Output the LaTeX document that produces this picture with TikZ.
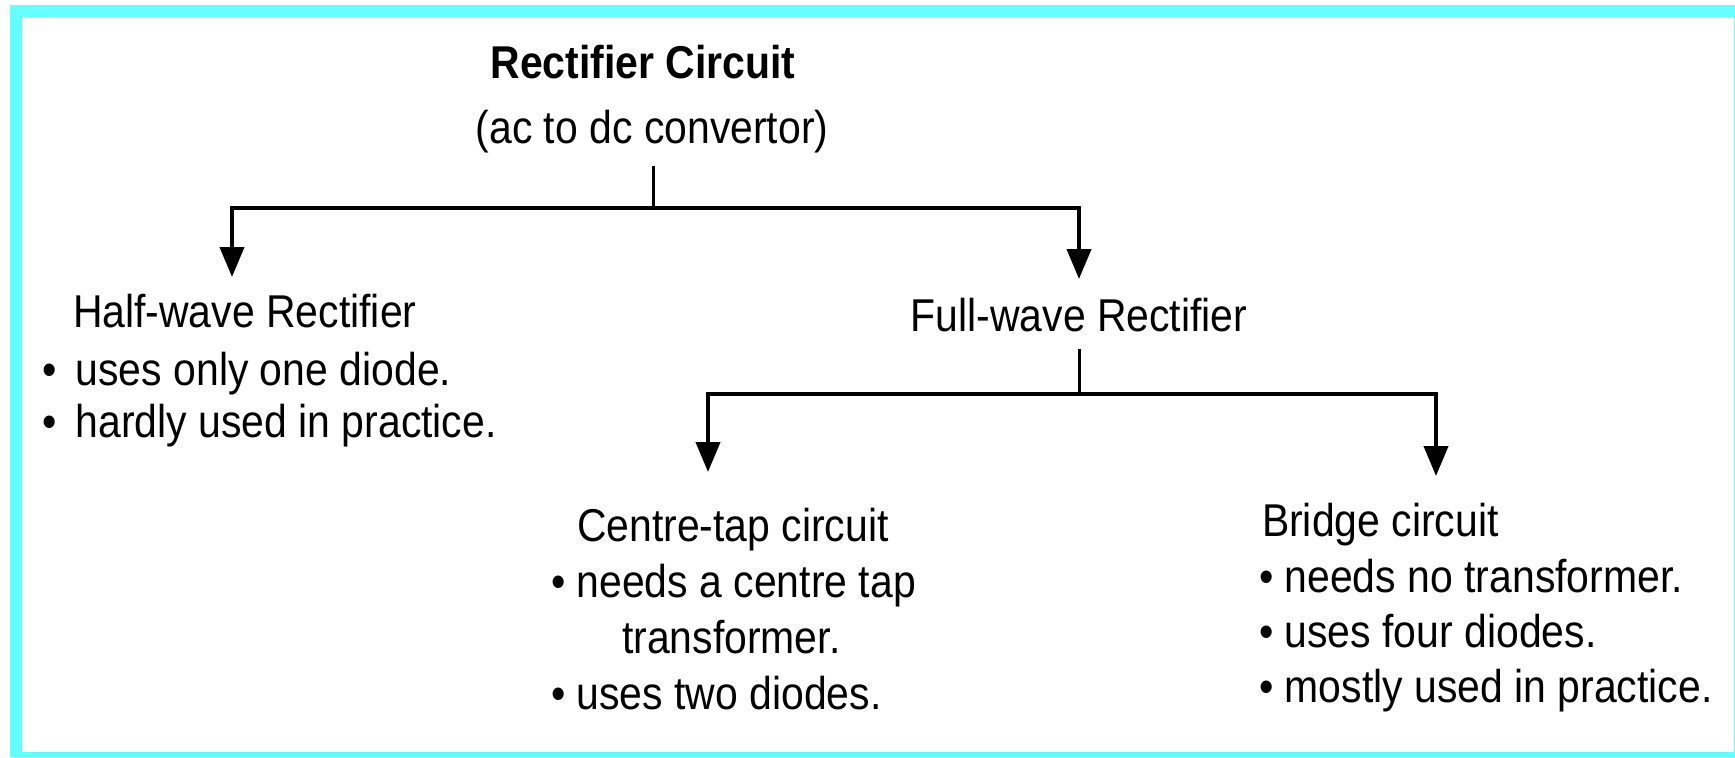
\documentclass[tikz,border=0pt]{standalone}
\usepackage{fontspec}
\setmainfont{Liberation Sans}[FakeStretch=0.89]
\usetikzlibrary{arrows.meta}
\definecolor{framecyan}{HTML}{66FFFF}
\tikzset{
  lbl/.style={inner sep=0pt, outer sep=0pt, font=\fontsize{23}{27.5}\selectfont},
  ttl/.style={lbl, font=\fontsize{23}{27.5}\selectfont\bfseries},
  conn/.style={line width=2pt, line join=miter, draw=black},
  stem/.style={line width=1.5pt, draw=black},
  arr/.style={conn, -{Triangle[width=12pt, length=15pt]}}
}
\begin{document}
\begin{tikzpicture}[x=0.5pt, y=-0.5pt]
\useasboundingbox (0,0) rectangle (1735,757);
% frame
\fill[framecyan, even odd rule] (10,5) rectangle (1735,757) (22,17) rectangle (1734,752);

% root
\node[ttl, anchor=base] (root) at (643,78) {Rectifier Circuit};
\node[lbl, anchor=base] (rootsub) at (652,143) {(ac to dc convertor)};

% half-wave
\node[lbl, anchor=base west] (half) at (73,327) {Half-wave Rectifier};
\node[lbl, anchor=base west] (half1) at (42,385) {\textbullet\hspace{4pt} uses only one diode.};
\node[lbl, anchor=base west] (half2) at (42,437) {\textbullet\hspace{4pt} hardly used in practice.};

% full-wave
\node[lbl, anchor=base] (full) at (1079,331) {Full-wave Rectifier};

% centre-tap
\node[lbl, anchor=base west] (ct) at (577,541) {Centre-tap circuit};
\node[lbl, anchor=base west] (ct1) at (551,597) {\textbullet\ needs a centre tap};
\node[lbl, anchor=base west] (ct2) at (622,653) {transformer.};
\node[lbl, anchor=base west] (ct3) at (551,709) {\textbullet\ uses two diodes.};

% bridge
\node[lbl, anchor=base west] (br) at (1262,536) {Bridge circuit};
\node[lbl, anchor=base west] (br1) at (1259,592) {\textbullet\ needs no transformer.};
\node[lbl, anchor=base west] (br2) at (1259,647) {\textbullet\ uses four diodes.};
\node[lbl, anchor=base west] (br3) at (1259,702) {\textbullet\ mostly used in practice.};

% junctions and arrow tips
\coordinate (rj) at (653,208);
\coordinate (halftip) at (232,277);
\coordinate (fulltip) at (1079,279);
\coordinate (fj) at (1079,394);
\coordinate (cttip) at (708,472);
\coordinate (brtip) at (1436,476);

% connectors
\draw[stem] (rootsub.south -| rj) ++(0,-6.5pt) -- (rj);
\draw[arr] (rj) -| (halftip);
\draw[arr] (rj) -| (fulltip);
\draw[stem] (full.south) ++(0,-9pt) -- (fj);
\draw[arr] (fj) -| (cttip);
\draw[arr] (fj) -| (brtip);
\end{tikzpicture}
\end{document}
